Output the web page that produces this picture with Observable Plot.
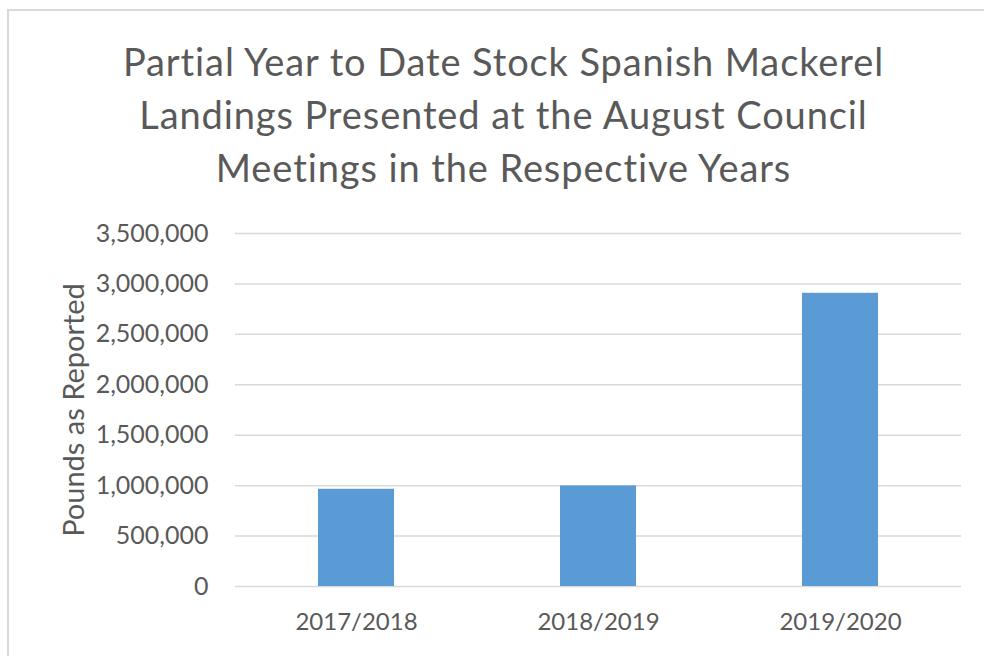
<!DOCTYPE html>
<html><head><meta charset="utf-8">
<script src="https://cdn.jsdelivr.net/npm/d3@7"></script>
<script src="https://cdn.jsdelivr.net/npm/@observablehq/plot@0.6"></script>
<style>
body{margin:0;background:#fff;}
#wrap{position:relative;width:984px;height:656px;overflow:hidden;font-family:Lato,sans-serif;}
#border{position:absolute;left:7px;top:9px;width:1100px;height:800px;border-left:2px solid #d9d9d9;border-top:2px solid #d9d9d9;}
#title{position:absolute;left:0;width:1007px;top:35px;text-align:center;font-size:38px;letter-spacing:0.9px;line-height:53px;color:#595959;}
#chart{position:absolute;left:0;top:0;}
</style></head><body>
<div id="wrap"><div id="border"></div><div id="chart"></div><div id="title">Partial Year to Date Stock Spanish Mackerel<br>Landings Presented at the August Council<br>Meetings in the Respective Years</div></div>
<script>
const seasons = ["2017/2018", "2018/2019", "2019/2020"];
const pounds = [964000, 997000, 2907000];
const yTicks = [0, 500000, 1000000, 1500000, 2000000, 2500000, 3000000, 3500000];
const yLabel = "Pounds as Reported";

const data = seasons.map((s, i) => ({season: s, pounds: pounds[i]}));

const chart = Plot.plot({
  width: 984, height: 656,
  marginLeft: 235, marginRight: 23, marginTop: 233, marginBottom: 70,
  style: {fontFamily: "Lato, sans-serif", fontSize: "24px", color: "#595959", background: "transparent"},
  x: {domain: seasons, paddingInner: 0.685, paddingOuter: 0.3425},
  y: {domain: [0, 3500000]},
  marks: [
    Plot.ruleY(yTicks, {stroke: "#d9d9d9", strokeWidth: 1.5}),
    Plot.barY(data, {x: "season", y: "pounds", fill: "#5b9bd5"}),
    Plot.axisX({tickSize: 0, tickPadding: 26, fontSize: 24, label: null}),
    Plot.axisY({ticks: yTicks, tickFormat: d3.format(","), tickSize: 0, tickPadding: 27, fontSize: 25, label: null}),
    Plot.axisY({ticks: [], tickSize: 0, label: yLabel, labelAnchor: "center", labelOffset: 172, labelArrow: false, fontSize: 29})
  ]
});
document.getElementById("chart").appendChild(chart);
</script>
</body></html>
